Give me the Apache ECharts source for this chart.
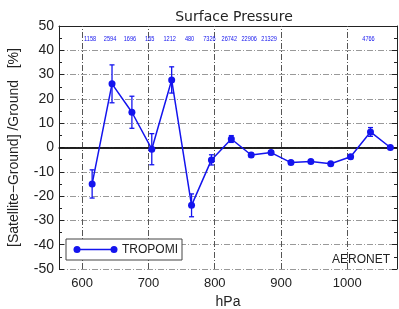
<!DOCTYPE html>
<html>
<head>
<meta charset="utf-8">
<title>Surface Pressure</title>
<script src="https://cdn.jsdelivr.net/npm/echarts@6/dist/echarts.min.js"></script>
<style>
  html, body { margin: 0; background: #fff; }
  #chart { width: 399px; height: 309px; }
</style>
</head>
<body>
<div id="chart"></div>
<script>
// pressure bins (hPa)
var pressure = [615, 645, 675, 705, 735, 765, 795, 825, 855, 885, 915, 945, 975, 1005, 1035, 1065];
// relative difference [%]
var relDiff = [-15, 26.2, 14.5, -0.7, 27.8, -23.8, -5.1, 3.5, -3.1, -2.1, -6.2, -5.8, -6.7, -3.8, 6.4, 0];
// error bar half length [%]
var errBar = [5.8, 7.8, 6.6, 6.4, 5.4, 4.7, 2.1, 1.4, 0.8, 0.8, 0.6, 0.6, 0.6, 0.8, 1.8, 0.6];
// number of collocations (null = not printed)
var counts = [1158, 2594, 1696, 165, 1212, 480, 7326, 26742, 22906, 21329, null, null, null, null, 4766, null];
var xTicks = [600, 700, 800, 900, 1000];
var countLevel = 44.5;

var blue = '#1414ee';
var chart = echarts.init(document.getElementById('chart'));

var lineData = pressure.map(function (p, i) { return [p, relDiff[i]]; });
var errData = pressure.map(function (p, i) { return [p, relDiff[i], errBar[i]]; });
var countData = [];
pressure.forEach(function (p, i) {
  if (counts[i] != null) countData.push([p, countLevel, counts[i]]);
});

var option = {
  animation: false,
  title: {
    text: 'Surface Pressure',
    left: 229, top: 5, textAlign: 'center',
    textStyle: { fontSize: 14, fontWeight: 'normal', color: '#222', fontFamily: 'DejaVu Sans' }
  },
  grid: { left: 59, right: 2, top: 26, bottom: 40, outerBoundsMode: 'none', containLabel: false },
  xAxis: [{
    type: 'value', min: 565, max: 1075,
    name: 'hPa', nameLocation: 'middle', nameGap: 22,
    nameTextStyle: { fontSize: 14, color: '#222', fontFamily: 'Liberation Sans' },
    axisLine: { lineStyle: { color: '#222', width: 1.5 } },
    axisTick: { show: true, inside: true, length: 4, customValues: xTicks, lineStyle: { color: '#222' } },
    axisLabel: { customValues: xTicks, fontSize: 13, color: '#222', margin: 8, fontFamily: 'Liberation Sans',
      formatter: function (v) { return String(v); } },
    splitLine: { show: false }
  }, {
    type: 'value', min: 565, max: 1075, position: 'top',
    axisLine: { show: true, onZero: false, lineStyle: { color: '#222', width: 1 } },
    axisTick: { show: false }, axisLabel: { show: false }, splitLine: { show: false }
  }],
  yAxis: [{
    type: 'value', min: -50, max: 50, interval: 10,
    name: '[Satellite\u2212Ground] /Ground   [%]', nameLocation: 'middle', nameGap: 38, nameRotate: 90,
    nameTextStyle: { fontSize: 14, color: '#222', fontFamily: 'Liberation Sans' },
    axisLine: { show: true, lineStyle: { color: '#222', width: 1 } },
    axisTick: { show: true, inside: true, length: 5, lineStyle: { color: '#222' } },
    minorTick: { show: true, splitNumber: 2, length: 3, lineStyle: { color: '#222' } },
    axisLabel: { fontSize: 14, color: '#222', margin: 5, fontFamily: 'Liberation Sans' },
    splitLine: { show: true, lineStyle: { color: '#999', type: [6, 2, 1, 2], width: 1 } }
  }, {
    type: 'value', min: -50, max: 50, interval: 10, position: 'right',
    axisLine: { show: true, lineStyle: { color: '#222', width: 1 } },
    axisTick: { show: true, inside: true, length: 5, lineStyle: { color: '#222' } },
    minorTick: { show: true, splitNumber: 2, length: 3, lineStyle: { color: '#222' } },
    axisLabel: { show: false }, splitLine: { show: false }
  }],
  series: [{
    type: 'line',
    data: lineData,
    z: 5,
    color: blue,
    symbol: 'circle', symbolSize: 7,
    lineStyle: { color: blue, width: 1.5 },
    itemStyle: { color: blue },
    markLine: {
      silent: true, symbol: 'none', label: { show: false }, z: 1,
      data: xTicks.map(function (v) {
        return { xAxis: v, lineStyle: { color: '#555', type: [6, 2, 1, 2], width: 1 } };
      }).concat([{ yAxis: 0, lineStyle: { color: '#111', type: 'solid', width: 1.5 } }])
    }
  }, {
    type: 'custom',
    data: errData,
    z: 4,
    renderItem: function (params, api) {
      var x = api.value(0), y = api.value(1), e = api.value(2);
      var top = api.coord([x, y + e]);
      var bot = api.coord([x, y - e]);
      var w = 2.5;
      var st = { stroke: blue, lineWidth: 1.3 };
      return {
        type: 'group',
        children: [
          { type: 'line', shape: { x1: top[0], y1: top[1], x2: bot[0], y2: bot[1] }, style: st },
          { type: 'line', shape: { x1: top[0] - w, y1: top[1], x2: top[0] + w, y2: top[1] }, style: st },
          { type: 'line', shape: { x1: bot[0] - w, y1: bot[1], x2: bot[0] + w, y2: bot[1] }, style: st }
        ]
      };
    }
  }, {
    type: 'custom',
    data: countData,
    z: 6,
    renderItem: function (params, api) {
      var pt = api.coord([api.value(0), api.value(1)]);
      return {
        type: 'text',
        x: pt[0] - 2, y: pt[1], scaleX: 0.8,
        style: {
          x: 0, y: 0, text: String(api.value(2)),
          align: 'center', verticalAlign: 'middle',
          fill: blue, fontSize: 7, fontFamily: 'Liberation Sans'
        }
      };
    }
  }],
  graphic: [
    { type: 'rect', shape: { x: 66, y: 239, width: 116, height: 21 }, style: { fill: '#fff', stroke: '#444', lineWidth: 1 }, z: 10 },
    { type: 'line', shape: { x1: 77, y1: 249.5, x2: 114, y2: 249.5 }, style: { stroke: blue, lineWidth: 1.5 }, z: 11 },
    { type: 'circle', shape: { cx: 77, cy: 249.5, r: 3.5 }, style: { fill: blue }, z: 11 },
    { type: 'circle', shape: { cx: 114, cy: 249.5, r: 3.5 }, style: { fill: blue }, z: 11 },
    { type: 'text', x: 122, y: 249.5, style: { text: 'TROPOMI', fontSize: 12, fill: '#222', verticalAlign: 'middle', fontFamily: 'Liberation Sans' }, z: 11 },
    { type: 'text', x: 390, y: 260, style: { text: 'AERONET', fontSize: 12, fill: '#222', align: 'right', verticalAlign: 'middle', fontFamily: 'Liberation Sans' }, z: 11 }
  ]
};
chart.setOption(option);
</script>
</body>
</html>
